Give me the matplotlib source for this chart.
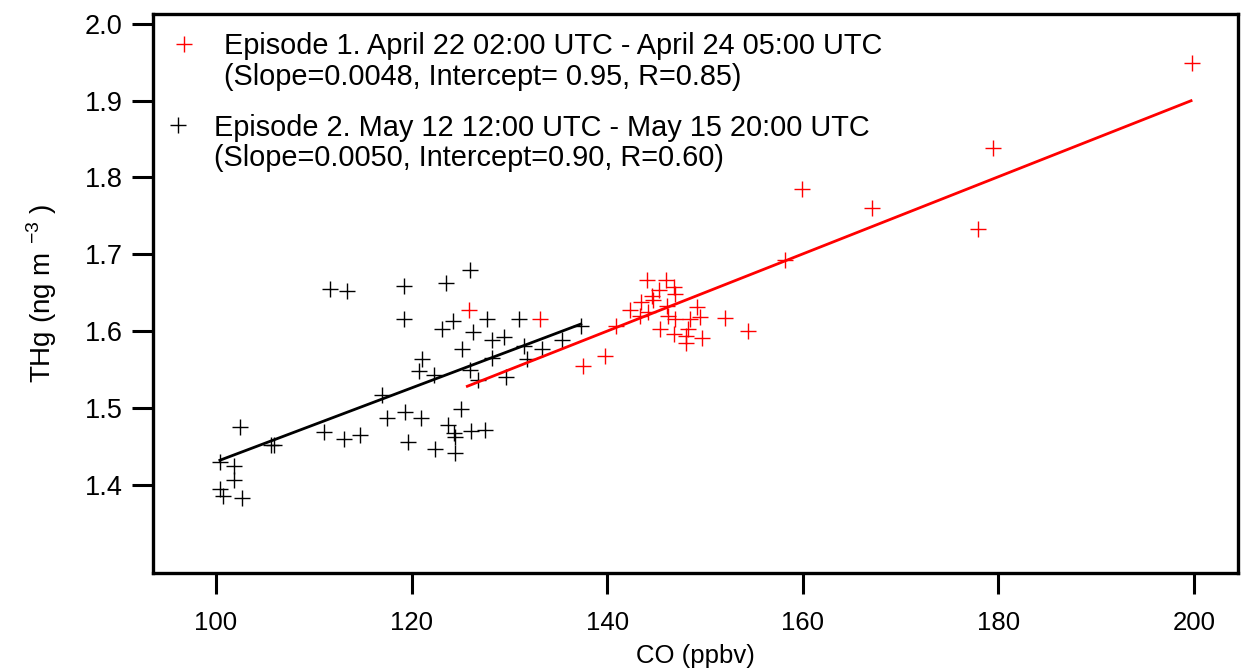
import matplotlib
matplotlib.use("Agg")
import matplotlib.pyplot as plt
from matplotlib.lines import Line2D

plt.rcParams["font.family"] = ["Liberation Sans", "DejaVu Sans"]
plt.rcParams["mathtext.fontset"] = "custom"
plt.rcParams["mathtext.rm"] = "Liberation Sans"

# Episode 1 (red)
ep1_co = [125.9, 133.1, 137.5, 139.8, 140.9, 142.3, 143.4, 143.5, 144.2, 144.1,
          144.6, 144.7, 145.3, 146.0, 146.8, 146.9, 146.2, 146.1, 146.9, 145.4,
          146.8, 149.2, 148.5, 149.5, 148.3, 148.1, 148.1, 149.7, 152.0, 154.4,
          158.2, 159.9, 167.1, 177.9, 179.5, 199.8]
ep1_thg = [1.627, 1.615, 1.555, 1.568, 1.606, 1.627, 1.620, 1.638, 1.625, 1.667,
           1.646, 1.640, 1.654, 1.666, 1.657, 1.648, 1.620, 1.632, 1.615, 1.603,
           1.596, 1.631, 1.616, 1.618, 1.603, 1.594, 1.585, 1.591, 1.617, 1.600,
           1.692, 1.785, 1.760, 1.733, 1.839, 1.949]

# Episode 2 (black)
ep2_co = [111.7, 113.4, 119.25, 119.25, 102.45, 105.6, 105.9, 100.4, 101.8, 101.8,
          100.4, 100.7, 102.7, 111.0, 113.1, 114.7, 117.0, 117.5, 123.5, 126.0,
          124.2, 123.1, 127.7, 126.3, 131.0, 128.2, 129.4, 125.2, 128.2, 131.5,
          133.3, 135.4, 137.3, 131.8, 121.1, 120.8, 122.3, 126.0, 126.8, 129.7,
          119.3, 120.96, 125.05, 123.7, 124.3, 124.4, 126.1, 127.5, 119.6, 122.4,
          124.4]
ep2_thg = [1.6545, 1.652, 1.658, 1.615, 1.4755, 1.452, 1.451, 1.429, 1.4237, 1.4055,
           1.3946, 1.3846, 1.383, 1.469, 1.459, 1.464, 1.516, 1.487, 1.663, 1.679,
           1.613, 1.603, 1.615, 1.599, 1.615, 1.588, 1.592, 1.576, 1.565, 1.580,
           1.577, 1.588, 1.606, 1.564, 1.564, 1.548, 1.543, 1.549, 1.536, 1.540,
           1.495, 1.486, 1.499, 1.477, 1.467, 1.462, 1.470, 1.471, 1.455, 1.446,
           1.441]

# regression lines as drawn
fit1_co = [125.7, 199.7]
fit1_thg = [1.528, 1.900]
fit2_co = [100.4, 137.3]
fit2_thg = [1.4316, 1.609]

ep1_text = ["Episode 1. April 22 02:00 UTC - April 24 05:00 UTC",
            "(Slope=0.0048, Intercept= 0.95, R=0.85)"]
ep2_text = ["Episode 2. May 12 12:00 UTC - May 15 20:00 UTC",
            "(Slope=0.0050, Intercept=0.90, R=0.60)"]

x_ticks = [100, 120, 140, 160, 180, 200]
y_ticks = [1.4, 1.5, 1.6, 1.7, 1.8, 1.9, 2.0]

fig = plt.figure(figsize=(12.41, 6.71), dpi=100)
ax = fig.add_axes([153 / 1241, 98 / 671, 1085 / 1241, 559 / 671])

ms = 11.5
ax.plot(ep2_co, ep2_thg, ls="none", marker="+", ms=ms, mew=1.0, color="black")
ax.plot(ep1_co, ep1_thg, ls="none", marker="+", ms=ms, mew=1.0, color="red")
ax.plot(fit2_co, fit2_thg, color="black", lw=2.0)
ax.plot(fit1_co, fit1_thg, color="red", lw=2.0)

ax.set_xlim(93.56, 204.5)
ax.set_ylim(1.2847, 2.013)
ax.set_xticks(x_ticks)
ax.set_yticks(y_ticks)
ax.set_yticklabels([f"{v:.1f}" for v in y_ticks])

for s in ax.spines.values():
    s.set_linewidth(2.4)
ax.tick_params(direction="out", length=15, width=2.2)
ax.tick_params(axis="y", pad=7, labelsize=19.5)
ax.tick_params(axis="x", pad=12, labelsize=18.5)

ax.set_xlabel("CO (ppbv)", fontsize=18.5, labelpad=7)
ax.set_ylabel("THg (ng m $^{-3}$ )", fontsize=20, labelpad=18)

blank = Line2D([], [], ls="none", marker=None)
h1 = Line2D([], [], ls="none", marker="+", ms=ms, mew=1.0, color="red")
h2 = Line2D([], [], ls="none", marker="+", ms=ms, mew=1.0, color="black")

leg1 = ax.legend([h1, blank], ep1_text, loc="upper left",
                 bbox_to_anchor=(0.0153, 0.967), frameon=False, fontsize=20.8,
                 borderpad=0, borderaxespad=0, handlelength=1.0,
                 handletextpad=0.88, labelspacing=0.08, numpoints=1)
ax.add_artist(leg1)
ax.legend([h2, blank], ep2_text, loc="upper left",
          bbox_to_anchor=(0.0098, 0.822), frameon=False, fontsize=20.8,
          borderpad=0, borderaxespad=0, handlelength=1.0,
          handletextpad=0.74, labelspacing=0.08, numpoints=1)

fig.savefig("out.png", dpi=100)
